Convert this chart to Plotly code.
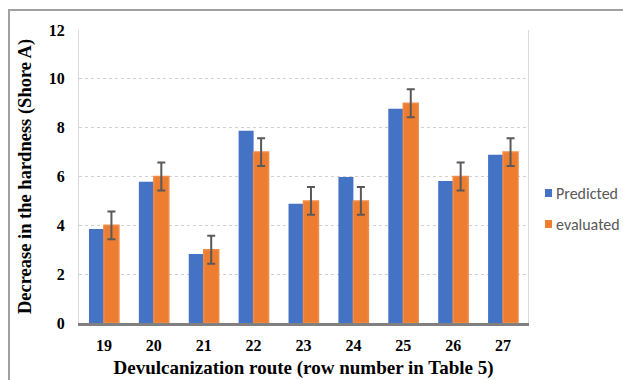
import plotly.graph_objects as go

# Devulcanization routes (rows of Table 5)
routes = ["19", "20", "21", "22", "23", "24", "25", "26", "27"]
predicted = [3.85, 5.78, 2.83, 7.87, 4.88, 5.98, 8.77, 5.82, 6.89]
evaluated = [4, 6, 3, 7, 5, 5, 9, 6, 7]
evaluated_err = [0.57, 0.57, 0.57, 0.57, 0.57, 0.57, 0.57, 0.57, 0.57]
y_ticks = [0, 2, 4, 6, 8, 10, 12]
series_names = ["Predicted", "evaluated"]
series_colors = ["#4472C4", "#ED7D31"]

tick_font = dict(family="Liberation Serif", size=16, color="black", weight="bold")

fig = go.Figure()
fig.add_trace(go.Bar(
    x=routes, y=predicted, name=series_names[0],
    marker=dict(color=series_colors[0], line=dict(width=0)),
))
fig.add_trace(go.Bar(
    x=routes, y=evaluated, name=series_names[1],
    marker=dict(color=series_colors[1], line=dict(color="#F08C4A", width=1.5)),
    error_y=dict(type="data", array=evaluated_err, color="#595959",
                 thickness=2, width=4),
))

plot_l, plot_w, plot_b, plot_h = 79, 449, 323, 293

# Outer frame around the chart
shapes = [dict(
    type="rect", xref="paper", yref="paper",
    x0=(9 - plot_l) / plot_w, x1=1.4, y0=-0.4, y1=1 + (plot_b - plot_h - 10) / plot_h,
    line=dict(color="#a0a0a0", width=2), layer="below",
)]
annotations = []

# Legend entries drawn beside the plot area
for i, (name, color) in enumerate(zip(series_names, series_colors)):
    cy = 193 + 31 * i
    shapes.append(dict(type="rect", xref="paper", yref="paper",
                       x0=(545 - plot_l) / plot_w, x1=(552 - plot_l) / plot_w,
                       y0=(plot_b - (cy + 4)) / plot_h,
                       y1=(plot_b - (cy - 4)) / plot_h,
                       fillcolor=color, line=dict(width=0)))
    annotations.append(dict(
        text=name, xref="paper", yref="paper",
        x=(554 - plot_l) / plot_w, y=(plot_b - cy) / plot_h,
        xanchor="left", yanchor="middle", showarrow=False,
        font=dict(family="Carlito, Liberation Sans", size=16, color="#595959"),
    ))

fig.update_layout(
    width=623, height=380,
    margin=dict(l=79, r=95, t=30, b=57),
    paper_bgcolor="white", plot_bgcolor="white",
    barmode="group", bargap=0.4, bargroupgap=0,
    showlegend=False,
    xaxis=dict(
        type="category", automargin=False,
        showline=True, linecolor="#808080", linewidth=3,
        showgrid=False, ticks="",
        tickfont=tick_font, ticklabelstandoff=6,
        title=dict(text="Devulcanization route (row number in Table 5)",
                   font=dict(family="Liberation Serif", size=19,
                             color="black", weight="bold"),
                   standoff=8),
    ),
    yaxis=dict(
        range=[0, 12], tickvals=y_ticks, automargin=False,
        showgrid=True, gridcolor="#d0d0d0", griddash="dot", gridwidth=1,
        showline=True, linecolor="#d9d9d9", linewidth=1, mirror=True,
        zeroline=False, ticks="",
        tickfont=tick_font, ticklabelstandoff=10,
        title=dict(text="Decrease in the hardness (Shore A)",
                   font=dict(family="Liberation Serif", size=18.5,
                             color="black", weight="bold"),
                   standoff=12),
    ),
    shapes=shapes,
    annotations=annotations,
)

fig.write_html("out.html")
